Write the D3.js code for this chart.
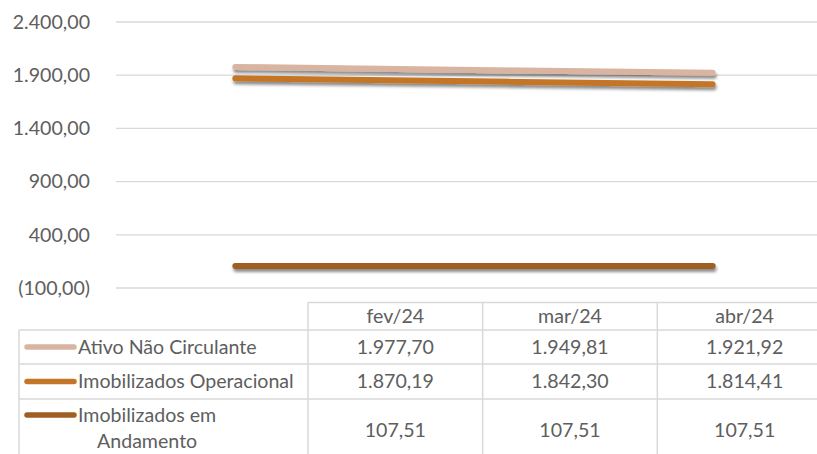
<!DOCTYPE html>
<html>
	<head>
		<meta charset="utf-8">
		<style>
			body { margin: 0; background: #ffffff; }
			svg { display: block; font-family: Lato, "Open Sans", sans-serif; }
			.tick_text, .cell_text { fill: #5e5e5e; font-size: 19.6px; }
		</style>
	</head>
	<body>
		<script src="https://cdn.jsdelivr.net/npm/d3@7"></script>

		<div id="canvas"></div>

		<script>
				var months = ["fev/24", "mar/24", "abr/24"];
				var series_names = ["Ativo Não Circulante", "Imobilizados Operacional", "Imobilizados em Andamento"];
				var ativo_values = [1977.70, 1949.81, 1921.92];
				var operacional_values = [1870.19, 1842.30, 1814.41];
				var andamento_values = [107.51, 107.51, 107.51];
				var y_ticks = [-100, 400, 900, 1400, 1900, 2400];
				var series_colors = ["#d9b4a0", "#c47628", "#a05f22"];

				var width = 817;
				var height = 454;

				var all_series = [ativo_values, operacional_values, andamento_values].map(function (values, i) {
					return { name: series_names[i], values: values, color: series_colors[i] };
				});

				var locale = d3.formatLocale({ decimal: ",", thousands: ".", grouping: [3], currency: ["R$", ""] });
				var fmt = locale.format(",.2f");
				function formatValue (v) {
					return v < 0 ? "(" + fmt(-v) + ")" : fmt(v);
				}

				var canvas_svg = d3.select("#canvas")
					.append("svg")
					.attr("width", width)
					.attr("height", height);

				// drop shadow like the office chart (user space so flat lines still render)
				var shadow = canvas_svg.append("defs")
					.append("filter")
					.attr("id", "line_shadow")
					.attr("filterUnits", "userSpaceOnUse")
					.attr("x", 0).attr("y", 0)
					.attr("width", width).attr("height", height);
				shadow.append("feDropShadow")
					.attr("dx", 1)
					.attr("dy", 3)
					.attr("stdDeviation", 1.6)
					.attr("flood-color", "#000000")
					.attr("flood-opacity", 0.45);

				var x = d3.scaleBand().domain(months).range([116, 832]);
				var y = d3.scaleLinear().domain([-100, 2400]).range([288, 22]);

				// gridlines + labels
				var grid_group = canvas_svg.append("g").attr("id", "grid_group");
				grid_group.selectAll("line")
					.data(y_ticks)
					.enter()
					.append("line")
					.attr("x1", 116)
					.attr("x2", width)
					.attr("y1", function (d) { return y(d); })
					.attr("y2", function (d) { return y(d); })
					.style("stroke", "#d9d9d9")
					.style("stroke-width", 1.3);

				grid_group.selectAll("text")
					.data(y_ticks)
					.enter()
					.append("text")
					.attr("class", "tick_text")
					.attr("x", 90)
					.attr("y", function (d) { return y(d); })
					.attr("dy", "0.35em")
					.attr("text-anchor", "end")
					.text(formatValue);

				// series lines
				var line = d3.line()
					.x(function (d, i) { return x(months[i]) + x.bandwidth() / 2; })
					.y(function (d) { return y(d); });

				canvas_svg.append("g")
					.attr("id", "lines_group")
					.selectAll("path")
					.data(all_series)
					.enter()
					.append("path")
					.attr("d", function (d) { return line(d.values); })
					.attr("filter", "url(#line_shadow)")
					.style("fill", "none")
					.style("stroke", function (d) { return d.color; })
					.style("stroke-width", 6)
					.style("stroke-linecap", "round");

				// data table
				var col = d3.scaleBand().domain(months).range([308, 832]);
				var row_tops = [330, 364, 399];
				var row_bottoms = [364, 399, 470];
				var header_top = 302.5;
				var table_left = 19;
				var table_right = 832;

				var table_group = canvas_svg.append("g")
					.attr("id", "table_group")
					.style("stroke", "#d9d9d9")
					.style("stroke-width", 1.5);

				table_group.append("line")
					.attr("x1", 308).attr("x2", table_right)
					.attr("y1", header_top).attr("y2", header_top);
				table_group.selectAll(".row_line")
					.data(row_tops)
					.enter()
					.append("line")
					.attr("class", "row_line")
					.attr("x1", table_left).attr("x2", table_right)
					.attr("y1", function (d) { return d; })
					.attr("y2", function (d) { return d; });
				table_group.selectAll(".col_line")
					.data(months)
					.enter()
					.append("line")
					.attr("class", "col_line")
					.attr("x1", function (d) { return col(d); })
					.attr("x2", function (d) { return col(d); })
					.attr("y1", header_top).attr("y2", height + 10);
				table_group.append("line")
					.attr("x1", table_left).attr("x2", table_left)
					.attr("y1", row_tops[0]).attr("y2", height + 10);

				canvas_svg.append("g")
					.selectAll("text")
					.data(months)
					.enter()
					.append("text")
					.attr("class", "cell_text")
					.attr("x", function (d) { return col(d) + col.bandwidth() / 2; })
					.attr("y", (header_top + row_tops[0]) / 2)
					.attr("dy", "0.35em")
					.attr("text-anchor", "middle")
					.text(function (d) { return d; });

				var row_groups = canvas_svg.append("g")
					.selectAll("g")
					.data(all_series)
					.enter()
					.append("g");

				// values
				row_groups.each(function (s, r) {
					var mid = r < 2 ? (row_tops[r] + row_bottoms[r]) / 2 : 430;
					d3.select(this).selectAll("text.cell_text")
						.data(s.values)
						.enter()
						.append("text")
						.attr("class", "cell_text")
						.attr("x", function (d, i) { return col(months[i]) + col.bandwidth() / 2; })
						.attr("y", mid)
						.attr("dy", "0.35em")
						.attr("text-anchor", "middle")
						.text(formatValue);
				});

				// legend keys + labels
				row_groups.each(function (s, r) {
					var g = d3.select(this);
					var label_y = r < 2 ? (row_tops[r] + row_bottoms[r]) / 2 : 415;
					g.append("line")
						.attr("x1", 27).attr("x2", 74)
						.attr("y1", label_y).attr("y2", label_y)
						.style("stroke", s.color)
						.style("stroke-width", 5.5)
						.style("stroke-linecap", "round");
					if (r < 2) {
						g.append("text")
							.attr("class", "cell_text")
							.attr("x", 78)
							.attr("y", label_y)
							.attr("dy", "0.35em")
							.text(s.name);
					} else {
						var first = g.append("text")
							.attr("class", "cell_text")
							.attr("x", 78)
							.attr("y", label_y)
							.attr("dy", "0.35em")
							.text("Imobilizados em");
						var w = first.node().getComputedTextLength();
						g.append("text")
							.attr("class", "cell_text")
							.attr("x", 78 + w / 2)
							.attr("y", label_y + 26.5)
							.attr("dy", "0.35em")
							.attr("text-anchor", "middle")
							.text("Andamento");
					}
				});
		</script>
	</body>
</html>
